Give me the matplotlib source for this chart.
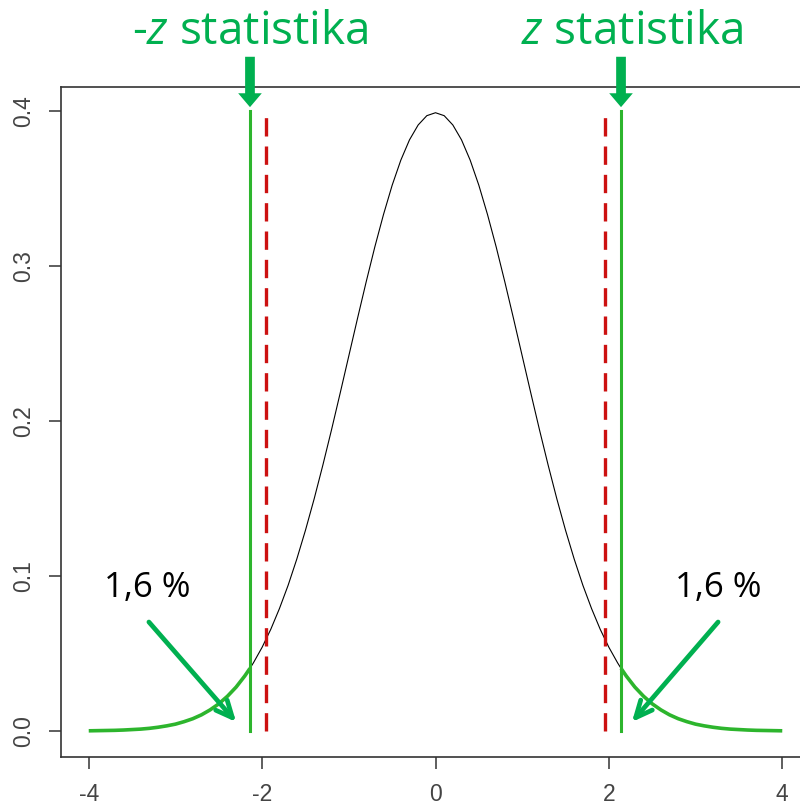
import matplotlib
matplotlib.use("Agg")
import matplotlib.pyplot as plt

# density values (right half, curve is symmetric)
x_half = [0.0, 0.1, 0.2, 0.3, 0.4, 0.5, 0.6, 0.7, 0.8, 0.9, 1.0, 1.1, 1.2,
          1.3, 1.4, 1.5, 1.6, 1.7, 1.8, 1.9, 2.0, 2.1, 2.14, 2.2, 2.3, 2.4,
          2.5, 2.6, 2.7, 2.8, 2.9, 3.0, 3.1, 3.2, 3.3, 3.4, 3.5, 3.6, 3.7,
          3.8, 3.9, 4.0]
y_half = [0.3989, 0.3970, 0.3910, 0.3814, 0.3683, 0.3521, 0.3332, 0.3123,
          0.2897, 0.2661, 0.2420, 0.2179, 0.1942, 0.1714, 0.1497, 0.1295,
          0.1109, 0.0940, 0.0790, 0.0656, 0.0540, 0.0440, 0.0404, 0.0355,
          0.0283, 0.0224, 0.0175, 0.0136, 0.0104, 0.0079, 0.0060, 0.0044,
          0.0033, 0.0024, 0.0017, 0.0012, 0.0009, 0.0006, 0.0004, 0.0003,
          0.0002, 0.0001]

z_stat = 2.14      # observed z statistic
z_crit = 1.96      # critical value
line_top = 0.4
tail_label = "1,6 %"
x_ticks = [-4, -2, 0, 2, 4]
y_ticks = [0.0, 0.1, 0.2, 0.3, 0.4]

xs = [-v for v in reversed(x_half[1:])] + x_half
ys = list(reversed(y_half[1:])) + y_half

green_line = "#2db52d"
green_txt = "#00b050"
red = "#cc1111"

plt.rcParams["mathtext.fontset"] = "custom"
plt.rcParams["mathtext.it"] = "Open Sans:italic"
plt.rcParams["mathtext.rm"] = "Open Sans"

fig = plt.figure(figsize=(8, 8.08), dpi=100)
ax = fig.add_axes([61 / 800, 51 / 808, 749 / 800, 670 / 808])

mid = [(x, y) for x, y in zip(xs, ys) if abs(x) <= z_stat]
left = [(x, y) for x, y in zip(xs, ys) if x <= -z_stat]
right = [(x, y) for x, y in zip(xs, ys) if x >= z_stat]

ax.plot([p[0] for p in mid], [p[1] for p in mid], color="black", lw=0.8)
for seg in (left, right):
    ax.plot([p[0] for p in seg], [p[1] for p in seg], color=green_line, lw=2.6,
            solid_capstyle="butt")

for s in (-1, 1):
    ax.plot([s * z_stat, s * z_stat], [0, line_top], color=green_line, lw=2.2)
    ax.plot([s * z_crit, s * z_crit], [0, line_top - 0.003], color=red, lw=2.4,
            dashes=(5.5, 3.0))

ax.set_xlim(-4.32, 4.32)
ax.set_ylim(-0.0168, 0.4155)
ax.set_xticks(x_ticks)
ax.set_xticklabels(["-4", "-2", "0", "2", "4"])
ax.set_yticks(y_ticks)
ax.set_yticklabels(["0.0", "0.1", "0.2", "0.3", "0.4"], rotation=90, va="center")
ax.tick_params(direction="out", length=8.6, width=1.1, color="#333333",
               labelcolor="#444444", labelsize=16.5, pad=10)
for lab in ax.get_xticklabels() + ax.get_yticklabels():
    lab.set_family("Liberation Sans")
ax.spines["right"].set_visible(False)
for sp in ("left", "top", "bottom"):
    ax.spines[sp].set_color("#333333")
    ax.spines[sp].set_linewidth(1.2)

# labels above the plot
ax.text(-2.14, 0.451, r"-$\mathit{z}$ statistika", color=green_txt, fontsize=33,
        family="Open Sans", ha="center", va="center", clip_on=False)
ax.text(2.27, 0.451, r"$\mathit{z}$ statistika", color=green_txt, fontsize=33,
        family="Open Sans", ha="center", va="center", clip_on=False)
for xa in (-2.14, 2.14):
    ax.annotate("", xy=(xa, 0.4025), xytext=(xa, 0.435),
                arrowprops=dict(arrowstyle="simple,head_length=1.0,head_width=1.7,tail_width=0.7",
                                color=green_txt, lw=0, shrinkA=0, shrinkB=0),
                annotation_clip=False)

# tail labels
ax.text(-3.32, 0.0925, tail_label, fontsize=25, family="Open Sans",
        ha="center", va="center")
ax.text(3.26, 0.0925, tail_label, fontsize=25, family="Open Sans",
        ha="center", va="center")
ax.annotate("", xy=(-2.30, 0.0058), xytext=(-3.306, 0.0703),
            arrowprops=dict(arrowstyle="->,head_length=1.2,head_width=0.55",
                            color=green_txt, lw=3.4, shrinkA=0, shrinkB=0))
ax.annotate("", xy=(2.266, 0.0058), xytext=(3.26, 0.0703),
            arrowprops=dict(arrowstyle="->,head_length=1.2,head_width=0.55",
                            color=green_txt, lw=3.4, shrinkA=0, shrinkB=0))

fig.savefig("out.png", dpi=100)
